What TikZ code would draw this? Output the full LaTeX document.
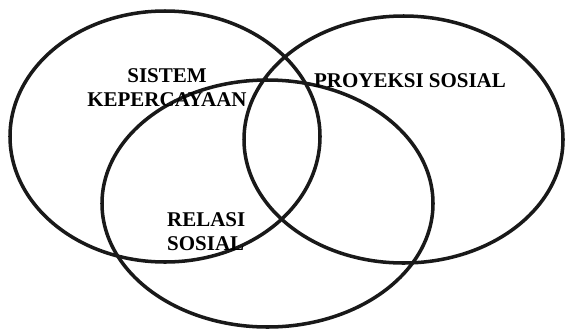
\documentclass[tikz,border=0pt]{standalone}
\usepackage{fontspec}
\setmainfont{Liberation Serif}
\usetikzlibrary{positioning}

\begin{document}
\begin{tikzpicture}[
    x=0.03cm, y=-0.03cm,
    ring/.style={draw=black!90, line width=3pt},
    lbl/.style={inner sep=0pt, font=\fontsize{17.9}{20.5}\selectfont\bfseries}
]
\useasboundingbox (0,0) rectangle (568,329);

\draw[ring] (165,136.5) ellipse [x radius=155, y radius=125.5];
\draw[ring] (403.5,139.5) ellipse [x radius=159.5, y radius=123.5];
\draw[ring] (267.5,203.5) ellipse [x radius=165.5, y radius=123.5];

\node[lbl, align=center, anchor=north] (sistem) at (167,68) {SISTEM\\KEPERCAYAAN};
\node[lbl, anchor=north] (proyeksi) at (410,73) {PROYEKSI SOSIAL};
\node[lbl, align=left, anchor=north west] (relasi) at (167,212) {RELASI\\SOSIAL};
\end{tikzpicture}
\end{document}
